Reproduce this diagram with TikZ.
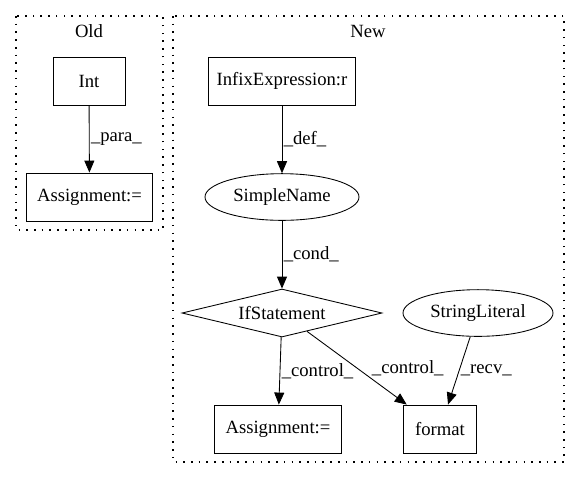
\documentclass[tikz,border=0pt]{standalone}
\usepackage{fontspec}
\setmainfont{Liberation Serif}
\usetikzlibrary{shapes.geometric,arrows.meta}

\begin{document}
\begin{tikzpicture}[x=0.75pt, y=-0.75pt,
    font=\fontsize{14}{16}\selectfont,
    line width=0.65pt,
    >={Triangle[length=9pt, width=7.5pt]},
    stmt/.style={draw, rectangle, minimum height=36pt, inner sep=2pt},
    ovalnode/.style={draw, ellipse, minimum height=35pt, inner sep=1pt},
    cluster/.style={line width=1pt, dash pattern=on 1.2pt off 4.6pt},
    lbl/.style={right, inner sep=1pt}]
    \useasboundingbox (0,0) rectangle (580,480);

    % Old cluster
    \draw[cluster] (16,16) rectangle (163,230);
    \node (oldtitle) at (89,31) {Old};
    \node[stmt, minimum width=54pt] (int) at (89,81) {Int};
    \node[stmt, minimum width=94pt] (oldassign) at (89.5,197) {Assignment:=};
    \draw[->] (int) -- (oldassign) node[midway, lbl] {\_para\_};

    % New cluster
    \draw[cluster] (173,16) rectangle (564,462);
    \node (newtitle) at (368,31) {New};
    \node[stmt, minimum width=110pt] (infix) at (282,81) {InfixExpression:r};
    \node[ovalnode, minimum width=115.5pt] (simple) at (282,197) {SimpleName};
    \node[draw, diamond, aspect=4.2, inner sep=0pt, minimum width=150pt, minimum height=36pt] (ifstmt) at (282,313) {IfStatement};
    \node[ovalnode, minimum width=112.5pt] (strlit) at (478,313) {StringLiteral};
    \node[stmt, minimum width=95pt] (newassign) at (278,429) {Assignment:=};
    \node[stmt, minimum width=55pt] (format) at (440,429) {format};

    % Edges
    \draw[->] (infix) -- (simple) node[midway, lbl] {\_def\_};
    \draw[->] (simple) -- (ifstmt) node[midway, lbl] {\_cond\_};
    \draw[->] (ifstmt) -- (newassign) node[midway, lbl] {\_control\_};
    \draw[->] (ifstmt) -- (format) node[midway, lbl, xshift=10pt] {\_control\_};
    \draw[->] (strlit) -- (format) node[midway, lbl] {\_recv\_};

\end{tikzpicture}
\end{document}
